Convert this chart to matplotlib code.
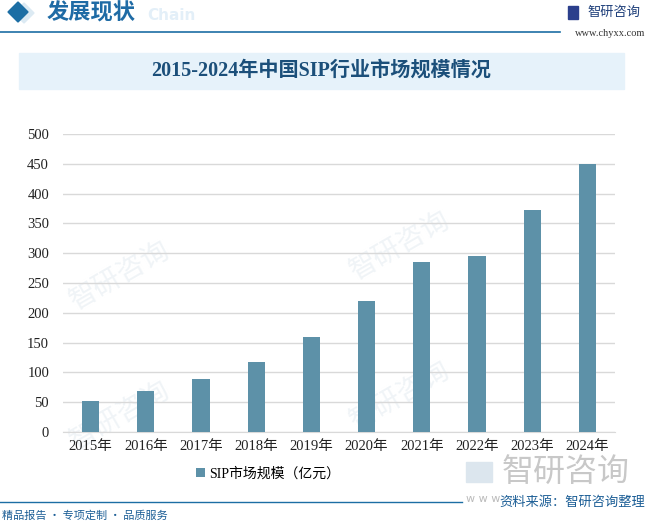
import matplotlib.pyplot as plt
from matplotlib.patches import Rectangle, Polygon

years = ["2015年", "2016年", "2017年", "2018年", "2019年",
         "2020年", "2021年", "2022年", "2023年", "2024年"]
market_size = [52, 69, 89, 117.5, 159, 219.5, 286, 295, 372, 450]
yticks = [0, 50, 100, 150, 200, 250, 300, 350, 400, 450, 500]

title = "2015-2024年中国SIP行业市场规模情况"
series_name = "SIP市场规模（亿元）"

serif = ["Liberation Serif", "Noto Sans CJK SC"]
sans = ["Noto Sans CJK SC", "DejaVu Sans"]
plt.rcParams["font.family"] = serif

W, H = 646, 526
fig = plt.figure(figsize=(W / 100, H / 100), dpi=100)


def fx(px):
    return px / W


def fy(py):
    return 1 - py / H


# faint watermarks (behind the plot)
for wx, wy in [(120, 275), (400, 245), (120, 415), (400, 395)]:
    fig.text(fx(wx), fy(wy), "智研咨询", fontsize=20, color="#F0F4F7", family=sans,
             rotation=30, ha="center", va="center", zorder=0)

# header
fig.patches.append(Polygon([[fx(14), fy(13)], [fx(24), fy(3)], [fx(34), fy(13)], [fx(24), fy(23)]],
                           closed=True, transform=fig.transFigure, color="#DCEAF3"))
fig.patches.append(Polygon([[fx(8), fy(12)], [fx(18), fy(2)], [fx(28), fy(12)], [fx(18), fy(22)]],
                           closed=True, transform=fig.transFigure, color="#1C6EA4"))
fig.text(fx(147), fy(16), "Chain", fontsize=11, fontweight="bold", color="#E3EFF8",
         family="DejaVu Sans", va="center")
fig.text(fx(47), fy(13), "发展现状", fontsize=16, fontweight="bold", color="#1F6BA5",
         family=sans, va="center")
fig.add_artist(plt.Line2D([0, fx(560)], [fy(32), fy(32)], transform=fig.transFigure,
                          color="#1C6EA4", lw=1.2))
fig.patches.append(Rectangle((fx(568), fy(19)), 10 / W, 13 / H,
                             transform=fig.transFigure, color="#2B3F8C"))
fig.text(fx(587), fy(12), "智研咨询", fontsize=9.5, color="#1E3F7A", family=sans, va="center")
fig.text(fx(645), fy(33), "www.chyxx.com", fontsize=7.5, color="#333333", ha="right", va="center")

# title box
fig.patches.append(Rectangle((fx(19), fy(89)), (624 - 19) / W, 36 / H,
                             transform=fig.transFigure, color="#E6F2FA", zorder=0))
fig.text(fx(321), fy(71), title, fontsize=14.5, fontweight="bold", color="#1B4F7A",
         ha="center", va="center")

# plot
ax = fig.add_axes([fx(63), fy(432), (615 - 63) / W, (432 - 134) / H])
ax.set_zorder(2)
ax.patch.set_alpha(0)
bars = ax.bar(range(len(years)), market_size, width=0.31, color="#5D91A8",
              label=series_name, zorder=3)
ax.set_xlim(-0.5, len(years) - 0.5)
ax.set_ylim(0, 500)
ax.set_yticks(yticks)
ax.set_xticks(range(len(years)))
ax.set_xticklabels(years)
ax.grid(axis="y", color="#D9D9D9", lw=1, zorder=0)
for s in ["top", "right", "left"]:
    ax.spines[s].set_visible(False)
ax.spines["bottom"].set_color("#D9D9D9")
ax.tick_params(length=0, labelsize=10.5, colors="#222222")
ax.tick_params(axis="y", pad=10)
ax.tick_params(axis="x", pad=6)

fig.legend(handles=[bars], labels=[series_name], loc="center", bbox_to_anchor=(fx(268), fy(474)),
           frameon=False, fontsize=10, handlelength=0.6, handleheight=0.6, handletextpad=0.3)

# footer
fig.patches.append(Rectangle((fx(466), fy(482)), 26 / W, 20 / H,
                             transform=fig.transFigure, color="#DCE6EE", zorder=0))
fig.text(fx(502), fy(472), "智研咨询", fontsize=23, color="#C8C8C8", family=sans,
         va="center", zorder=0)
fig.add_artist(plt.Line2D([0, fx(462)], [fy(502), fy(502)], transform=fig.transFigure,
                          color="#1C6EA4", lw=1))
fig.text(fx(466), fy(499), "w w w", fontsize=8, color="#BBBBBB", family="DejaVu Sans", va="center")
fig.text(fx(645), fy(502), "资料来源：智研咨询整理", fontsize=9.5, color="#1C5E96",
         family=sans, ha="right", va="center")
fig.text(fx(2), fy(516), "精品报告 · 专项定制 · 品质服务", fontsize=8, color="#1C5E96",
         family=sans, va="center")

fig.savefig("out.png", dpi=100)
